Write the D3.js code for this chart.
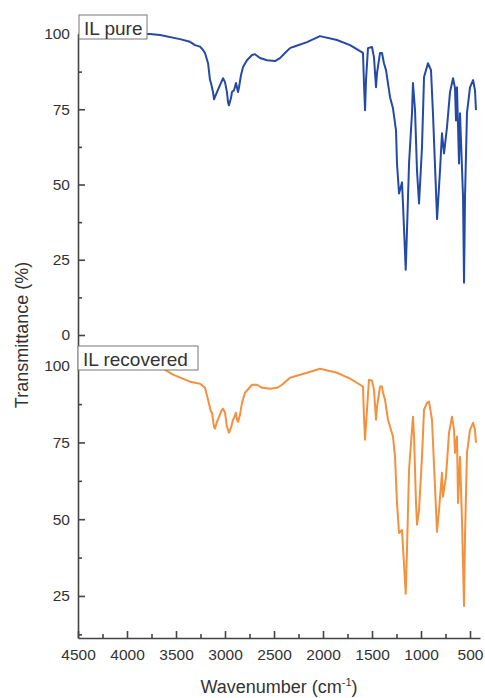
<!DOCTYPE html>
<html>
<head>
<meta charset="utf-8">
<script src="https://cdn.jsdelivr.net/npm/d3@7"></script>
<style>
  body { margin: 0; background: #fff; }
  svg text { font-family: "Liberation Sans", Arial, sans-serif; fill: #333; }
</style>
</head>
<body>
<div id="chart"></div>
<script>
'use strict';

// IL pure spectrum (wavenumber, transmittance)
var pureWn = [4000, 3800, 3765, 3663, 3459, 3357, 3306, 3255, 3224, 3204, 3173, 3153, 3143, 3122, 3112,
  3082, 3051, 3020, 3000, 2980, 2969, 2959, 2939, 2929, 2908, 2888, 2878, 2867, 2857, 2837, 2816,
  2776, 2724, 2694, 2643, 2571, 2490, 2439, 2388, 2337, 2306, 2163, 2031, 1857, 1724, 1622, 1592,
  1582, 1571, 1561, 1541, 1500, 1480, 1459, 1449, 1418, 1398, 1378, 1357, 1316, 1286, 1255, 1245,
  1224, 1194, 1184, 1156, 1143, 1122, 1092, 1082, 1061, 1041, 1020, 990, 969, 929, 898, 878, 836,
  806, 786, 765, 735, 704, 673, 653, 643, 633, 612, 602, 571, 561, 551, 531, 500, 469, 449, 439];
var pureT = [100, 100, 100, 99.7, 98.3, 97.4, 96.3, 95.8, 94.7, 93.7, 90.3, 84.7, 83.7, 80.7, 78.3,
  80.7, 83, 85.3, 84, 80.7, 77.3, 76.3, 78.7, 80.7, 81.3, 83.7, 82.3, 80.7, 82.3, 86.3, 89,
  91.3, 93, 93.3, 92, 91.3, 91, 92, 93.7, 95.3, 95.7, 97.3, 99.3, 98, 96.3, 94.3, 93.7,
  83.7, 74.7, 84.7, 95.3, 95.7, 92.3, 82.3, 87, 93.7, 93.7, 90.3, 88, 79, 75.3, 68, 57,
  47, 50.7, 43.7, 21.7, 34.7, 57, 73.7, 83.7, 74.7, 54.7, 43.7, 62.3, 85.7, 90.3, 88, 73.7, 38.5,
  54.7, 67, 60.3, 69, 80.7, 85.3, 82, 71.3, 82.3, 57, 73.7, 45.7, 17.4, 45.7, 73.7, 82.3, 84.7, 81.3, 74.7];

// IL recovered spectrum
var recWn = [4000, 3800, 3643, 3531, 3357, 3255, 3204, 3173, 3143, 3133, 3112, 3102, 3082, 3031, 3020,
  3000, 2980, 2959, 2939, 2918, 2908, 2888, 2878, 2867, 2847, 2827, 2796, 2724, 2673, 2622, 2541,
  2469, 2418, 2337, 2163, 2031, 1857, 1724, 1622, 1592, 1582, 1571, 1551, 1531, 1500, 1480, 1459,
  1449, 1418, 1398, 1388, 1367, 1337, 1286, 1265, 1245, 1224, 1194, 1184, 1156, 1143, 1122, 1082,
  1071, 1051, 1041, 1020, 990, 969, 939, 918, 888, 857, 837, 816, 786, 776, 745, 714, 684, 663,
  653, 633, 622, 602, 582, 561, 551, 531, 500, 469, 449, 439];
var recT = [101, 100.5, 99.3, 97.1, 94.8, 94.1, 92.8, 88.9, 85, 84.7, 80.1, 79.5, 81.7, 85.7, 86,
  84.7, 80.1, 78.2, 79.8, 82.4, 83, 84.7, 82.4, 81.7, 84, 87.9, 91.2, 93.8, 93.8, 92.8, 92.5,
  92.8, 93.8, 96.1, 97.7, 99, 97.7, 95.8, 93.8, 93.2, 83.4, 75.9, 85.7, 95.4, 95.1, 92.2, 82.4,
  86.6, 93.2, 93.2, 91.2, 88.9, 82.4, 76.9, 70.3, 55.3, 45.5, 46.5, 41, 25.7, 40, 66.1, 83.4,
  76.9, 55.3, 48.2, 53, 70.3, 85.7, 87.9, 88.3, 82.4, 60.5, 45.9, 53, 65.1, 57.3, 63.8, 78.2, 83.4, 79.1,
  71.6, 76.9, 55.3, 70.3, 49.8, 21.7, 44.2, 71.6, 79.1, 81.4, 79.1, 74.9];

var xMajor = [4500, 4000, 3500, 3000, 2500, 2000, 1500, 1000, 500];
var xMinor = [4250, 3750, 3250, 2750, 2250, 1750, 1250, 750];
var topMajor = [0, 25, 50, 75, 100];
var botMajor = [25, 50, 75, 100];
var yMinor = [12.5, 37.5, 62.5, 87.5];
var labels = ['IL pure', 'IL recovered'];

var svgW = 485;
var svgH = 698;
var plotL = 78;
var plotR = 480;
var axisY = 638;
var splitY = 335;
var plotT = 34;

var svg = d3.select('#chart').
  append('svg').
  attr('width', svgW).
  attr('height', svgH);

var x = d3.scaleLinear().domain([4500, 398]).range([plotL, plotR]);
var yTop = d3.scaleLinear().domain([0, 100]).range([splitY, plotT]);
var yBot = d3.scaleLinear().domain([11.3, 110]).range([axisY, splitY]);

function styleAxis (g) {
  g.selectAll('path, line').attr('stroke', '#444').attr('stroke-width', 1.6);
  g.selectAll('text').style('font-size', '15.5px').attr('fill', '#333');
}

function drawSpectrum (wn, t, y, color) {
  var pts = wn.map(function (d, i) { return [d, t[i]]; });
  var line = d3.line().
    x(function (d) { return x(d[0]); }).
    y(function (d) { return y(d[1]); });
  svg.append('path').
    datum(pts).
    attr('d', line).
    attr('fill', 'none').
    attr('stroke', color).
    attr('stroke-width', 2).
    attr('stroke-linejoin', 'round');
}

drawSpectrum(pureWn, pureT, yTop, '#2449a6');
drawSpectrum(recWn, recT, yBot, '#f4913f');

// left axes
[[yTop, topMajor], [yBot, botMajor]].forEach(function (a) {
  var g = svg.append('g').attr('transform', 'translate(' + plotL + ',0)');
  g.call(d3.axisLeft(a[0]).tickValues(a[1]).tickSizeInner(-7).tickSizeOuter(0).tickPadding(8));
  styleAxis(g);
  var m = svg.append('g').attr('transform', 'translate(' + plotL + ',0)');
  m.call(d3.axisLeft(a[0]).tickValues(yMinor).tickSizeInner(-4).tickSizeOuter(0).tickFormat(''));
  m.select('.domain').remove();
  styleAxis(m);
});

// bottom axis
var gx = svg.append('g').attr('transform', 'translate(0,' + axisY + ')');
gx.call(d3.axisBottom(x).tickValues(xMajor).tickFormat(d3.format('d')).
  tickSizeInner(-7).tickSizeOuter(0).tickPadding(11));
styleAxis(gx);
var mx = svg.append('g').attr('transform', 'translate(0,' + axisY + ')');
mx.call(d3.axisBottom(x).tickValues(xMinor).tickSizeInner(-4).tickSizeOuter(0).tickFormat(''));
mx.select('.domain').remove();
styleAxis(mx);

// panel labels
var boxes = [
  { text: labels[0], x: 79, y: 15, w: 68, h: 24, base: 35 },
  { text: labels[1], x: 78, y: 346, w: 120, h: 24, base: 366 }
];
boxes.forEach(function (b) {
  svg.append('rect').
    attr('x', b.x).
    attr('y', b.y).
    attr('width', b.w).
    attr('height', b.h).
    attr('fill', '#fff').
    attr('stroke', '#777').
    attr('stroke-width', 1);
  svg.append('text').
    attr('x', b.x + 5).
    attr('y', b.base).
    style('font-size', '19px').
    text(b.text);
});

// axis titles
var xt = svg.append('text').
  attr('x', (plotL + plotR) / 2).
  attr('y', 693).
  attr('text-anchor', 'middle').
  style('font-size', '18px');
xt.append('tspan').text('Wavenumber (cm');
xt.append('tspan').attr('dy', -7).style('font-size', '11px').text('-1');
xt.append('tspan').attr('dy', 7).text(')');

svg.append('text').
  attr('transform', 'translate(28,335) rotate(-90)').
  attr('text-anchor', 'middle').
  style('font-size', '18px').
  text('Transmittance (%)');
</script>
</body>
</html>
